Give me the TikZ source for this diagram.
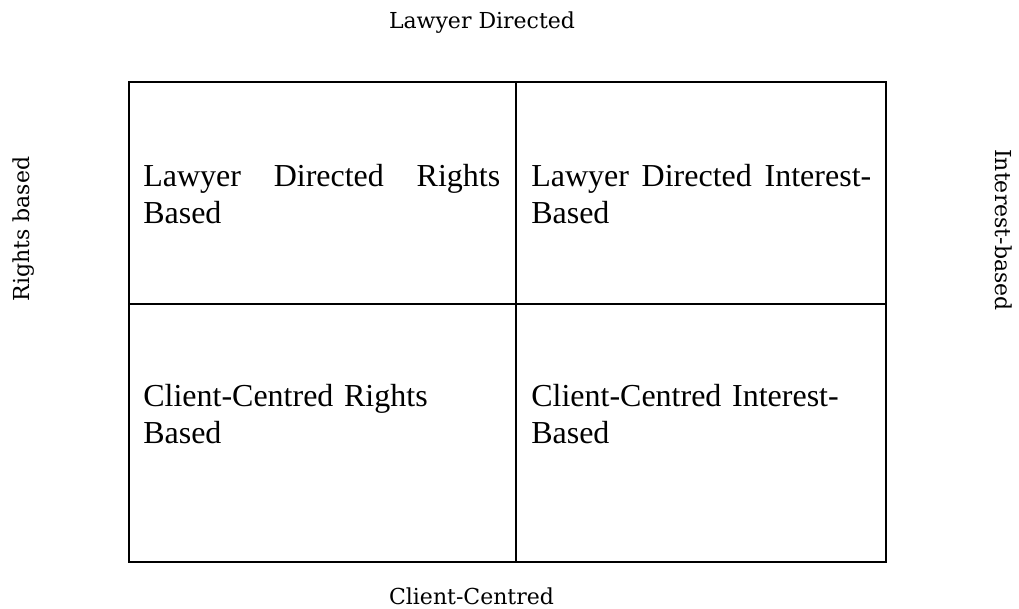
\documentclass[tikz,border=0pt]{standalone}
\usepackage{fontspec}
\setmainfont{Liberation Serif}
\newfontfamily\axisfont{DejaVu Serif}
\usetikzlibrary{calc}

\tikzset{
  grid/.style={line width=1.6pt},
  cell/.style={anchor=north west, inner sep=0pt, align=left,
    font=\fontsize{24}{27.75}\selectfont},
  axis/.style={anchor=base, inner sep=0pt,
    font=\axisfont\fontsize{16.5}{19}\selectfont},
}

\begin{document}
\begin{tikzpicture}[x=0.75pt, y=-0.75pt]

  \useasboundingbox (0,0) rectangle (1019,609);

  \coordinate (nw) at (129,82); % top left corner of the grid
  \coordinate (se) at (886,562); % bottom right corner
  \coordinate (tm) at (516,82); % top of the middle line
  \coordinate (bm) at (516,562);
  \coordinate (lm) at (129,304); % left end of the cross line
  \coordinate (rm) at (886,304);

  \draw[grid] (nw) rectangle (se);
  \draw[grid] (tm) -- (bm);
  \draw[grid] (lm) -- (rm);

  \node[cell, text width=267.75pt] (ldr) at (143,164) {Lawyer\hfill Directed\hfill Rights\\Based};
  \node[cell, text width=255pt] (ldi) at (531,164) {Lawyer\hfill Directed\hfill Interest-\\Based};
  \node[cell, text width=267.75pt] (ccr) at (143,384) {Client-Centred Rights\\Based};
  \node[cell, text width=255pt] (cci) at (531,384) {Client-Centred Interest-\\Based};

  \node[axis] (top) at (482,29) {Lawyer Directed};
  \node[axis] (bottom) at (471.5,604) {Client-Centred};
  \node[axis, rotate=90] (left) at (29,229) {Rights based};
  \node[axis, rotate=-90] (right) at (995,230) {Interest-based};
\end{tikzpicture}
\end{document}
